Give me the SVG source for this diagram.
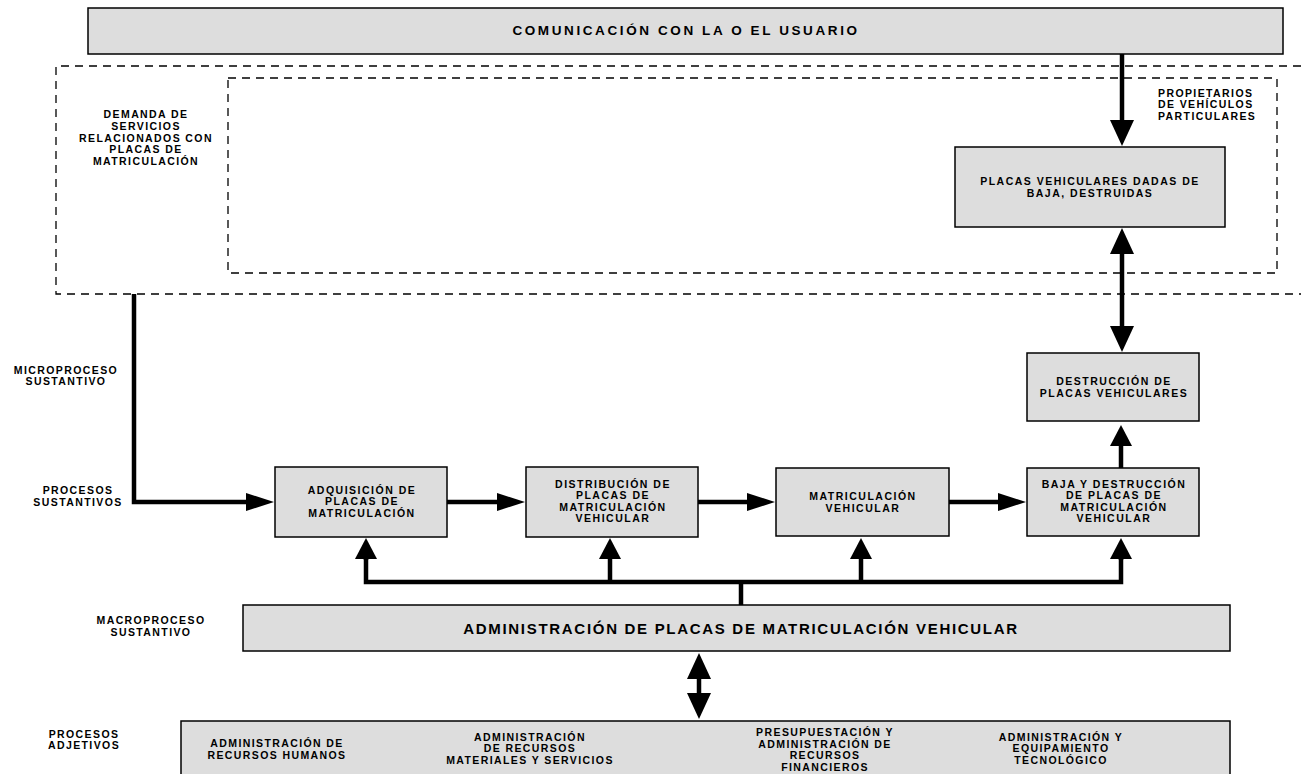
<svg xmlns="http://www.w3.org/2000/svg" width="1301" height="774" viewBox="0 0 1301 774">
<defs>
<style>
.box{fill:#dddddd;stroke:#000;stroke-width:1.5}
.dash{fill:none;stroke:#000;stroke-width:1.3;stroke-dasharray:8 6}
.c{fill:none;stroke:#000;stroke-width:4.5}
text{font-family:"Liberation Sans",Arial,sans-serif;font-weight:bold;fill:#000;text-anchor:middle}
.s{font-size:10.5px;letter-spacing:1.4px}
.m{font-size:10.5px;letter-spacing:1.5px}
.t{font-size:13.5px;letter-spacing:2.6px}
.l{font-size:15px;letter-spacing:1.7px}
</style>
<marker id="hb" markerUnits="userSpaceOnUse" markerWidth="26" markerHeight="24" viewBox="0 -12 26 24" refX="1" refY="0" orient="auto-start-reverse"><path d="M0,-12 L26,0 L0,12 z" fill="#000"/></marker>
<marker id="hs" markerUnits="userSpaceOnUse" markerWidth="28" markerHeight="18" viewBox="0 -9 28 18" refX="1" refY="0" orient="auto-start-reverse"><path d="M0,-9 L28,0 L0,9 z" fill="#000"/></marker>
<marker id="hu" markerUnits="userSpaceOnUse" markerWidth="21" markerHeight="22" viewBox="0 -11 21 22" refX="1" refY="0" orient="auto-start-reverse"><path d="M0,-11 L21,0 L0,11 z" fill="#000"/></marker>
</defs>

<g id="areas">
<path class="dash" d="M1301,66 H56 V294 H1301"/>
<rect class="dash" x="228" y="78" width="1049" height="195"/>
</g>

<g id="labels">
<text class="s"><tspan x="146" y="118">DEMANDA DE</tspan><tspan x="146" y="130">SERVICIOS</tspan><tspan x="146" y="142">RELACIONADOS CON</tspan><tspan x="146" y="153">PLACAS DE</tspan><tspan x="146" y="165">MATRICULACIÓN</tspan></text>
<text class="s" style="text-anchor:start"><tspan x="1158" y="97">PROPIETARIOS</tspan><tspan x="1158" y="108">DE VEHÍCULOS</tspan><tspan x="1158" y="120">PARTICULARES</tspan></text>
<text class="s"><tspan x="66" y="374">MICROPROCESO</tspan><tspan x="66" y="385">SUSTANTIVO</tspan></text>
<text class="s"><tspan x="78" y="494">PROCESOS</tspan><tspan x="78" y="506">SUSTANTIVOS</tspan></text>
<text class="s"><tspan x="151" y="624">MACROPROCESO</tspan><tspan x="151" y="636">SUSTANTIVO</tspan></text>
<text class="s"><tspan x="84" y="738">PROCESOS</tspan><tspan x="84" y="749">ADJETIVOS</tspan></text>
</g>

<g id="comunicacion">
<rect class="box" x="88" y="8" width="1195" height="46"/>
<text class="t" x="686" y="35">COMUNICACIÓN CON LA O EL USUARIO</text>
</g>

<g id="placas-baja">
<rect class="box" x="955" y="147" width="270" height="80"/>
<text class="m"><tspan x="1090" y="185">PLACAS VEHICULARES DADAS DE</tspan><tspan x="1090" y="197">BAJA, DESTRUIDAS</tspan></text>
</g>

<g id="destruccion">
<rect class="box" x="1027" y="353" width="172" height="68"/>
<text class="m"><tspan x="1114" y="385">DESTRUCCIÓN DE</tspan><tspan x="1114" y="397">PLACAS VEHICULARES</tspan></text>
</g>

<g id="adquisicion">
<rect class="box" x="275" y="467" width="172" height="70"/>
<text class="m"><tspan x="362" y="494">ADQUISICIÓN DE</tspan><tspan x="362" y="505">PLACAS DE</tspan><tspan x="362" y="517">MATRICULACIÓN</tspan></text>
</g>

<g id="distribucion">
<rect class="box" x="526" y="467" width="172" height="70"/>
<text class="m"><tspan x="613" y="488">DISTRIBUCIÓN DE</tspan><tspan x="613" y="499">PLACAS DE</tspan><tspan x="613" y="511">MATRICULACIÓN</tspan><tspan x="613" y="522">VEHICULAR</tspan></text>
</g>

<g id="matriculacion">
<rect class="box" x="776" y="468" width="173" height="68"/>
<text class="m"><tspan x="863" y="500">MATRICULACIÓN</tspan><tspan x="863" y="512">VEHICULAR</tspan></text>
</g>

<g id="baja">
<rect class="box" x="1027" y="468" width="172" height="68"/>
<text class="m"><tspan x="1114" y="488">BAJA Y  DESTRUCCIÓN</tspan><tspan x="1114" y="499">DE PLACAS DE</tspan><tspan x="1114" y="511">MATRICULACIÓN</tspan><tspan x="1114" y="522">VEHICULAR</tspan></text>
</g>

<g id="macroproceso">
<rect class="box" x="243" y="605" width="987" height="46"/>
<text class="l" x="741" y="634">ADMINISTRACIÓN DE PLACAS DE MATRICULACIÓN VEHICULAR</text>
</g>

<g id="adjetivos">
<rect class="box" x="181" y="721" width="1049" height="60"/>
<text class="s"><tspan x="277" y="747">ADMINISTRACIÓN DE</tspan><tspan x="277" y="759">RECURSOS HUMANOS</tspan></text>
<text class="s"><tspan x="530" y="741">ADMINISTRACIÓN</tspan><tspan x="530" y="752">DE RECURSOS</tspan><tspan x="530" y="764">MATERIALES Y SERVICIOS</tspan></text>
<text class="s"><tspan x="825" y="736">PRESUPUESTACIÓN Y</tspan><tspan x="825" y="748">ADMINISTRACIÓN DE</tspan><tspan x="825" y="759">RECURSOS</tspan><tspan x="825" y="771">FINANCIEROS</tspan></text>
<text class="s"><tspan x="1061" y="741">ADMINISTRACIÓN Y</tspan><tspan x="1061" y="752">EQUIPAMIENTO</tspan><tspan x="1061" y="764">TECNOLÓGICO</tspan></text>
</g>

<g id="connectors">
<path class="c" d="M1122,54 V121" marker-end="url(#hb)"/>
<path class="c" d="M1122,253 V327" marker-start="url(#hb)" marker-end="url(#hb)"/>
<path class="c" d="M1121,468 V445" marker-end="url(#hu)"/>
<path class="c" d="M134,294 V502 H247" marker-end="url(#hs)"/>
<path class="c" d="M447,502 H498" marker-end="url(#hs)"/>
<path class="c" d="M698,502 H748" marker-end="url(#hs)"/>
<path class="c" d="M949,502 H999" marker-end="url(#hs)"/>
<path class="c" d="M366,558 V582 H1121 V558"/>
<path class="c" d="M366,560 V558" marker-end="url(#hu)"/>
<path class="c" d="M1121,560 V558" marker-end="url(#hu)"/>
<path class="c" d="M610,582 V558" marker-end="url(#hu)"/>
<path class="c" d="M861,582 V558" marker-end="url(#hu)"/>
<path class="c" d="M741,582 V605"/>
<path class="c" d="M699,678 V694" marker-start="url(#hb)" marker-end="url(#hb)"/>
</g>
</svg>
